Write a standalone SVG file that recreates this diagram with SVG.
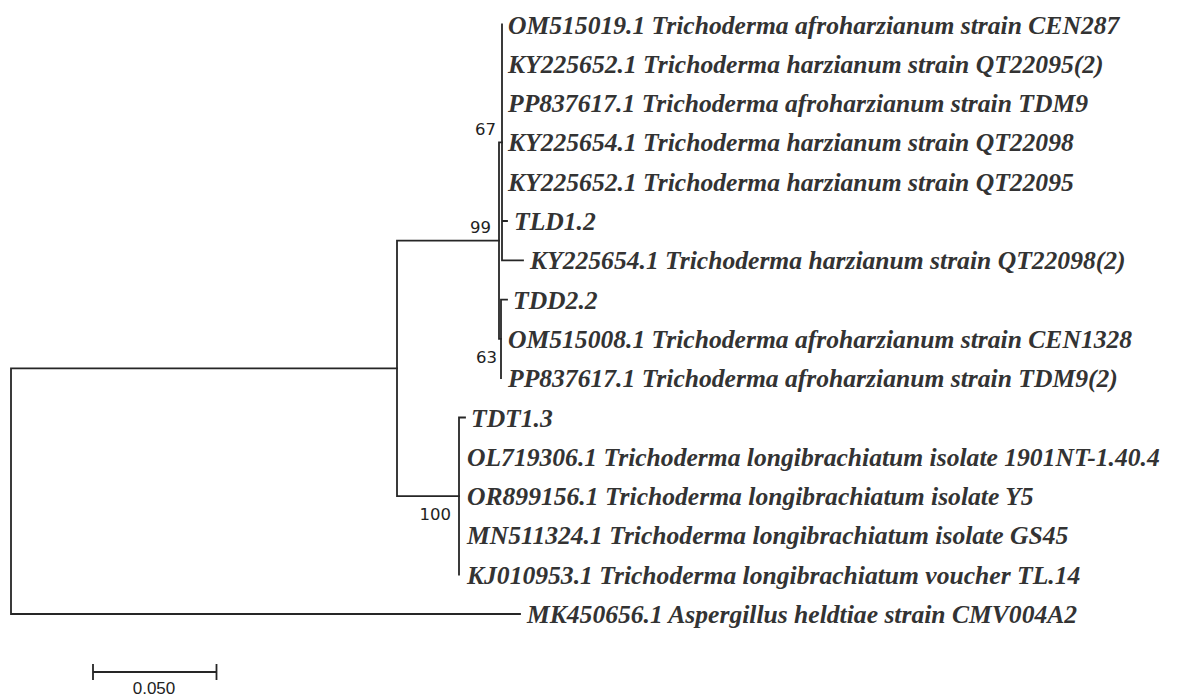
<svg xmlns="http://www.w3.org/2000/svg" width="1184" height="697" viewBox="0 0 1184 697">
<style>
.br{fill:none;stroke:#262626;stroke-width:1.8;stroke-linecap:square}
.lf{font-family:"Liberation Serif","Times New Roman",serif;font-style:italic;font-weight:bold;font-size:25.6px;fill:#333}
.bs{font-family:"DejaVu Sans",Verdana,sans-serif;font-size:16.5px;fill:#222;text-anchor:end}
.sc{font-family:"Liberation Sans",Arial,sans-serif;font-size:17px;fill:#222;text-anchor:middle}
</style>
<rect width="1184" height="697" fill="#fff"/>
<g id="connectors">
<path class="br" d="M11,368.4 V614 M11,368.4 H397 M11,614 H520"/>
<path class="br" d="M397,240.6 V496.1 M397,240.6 H499 M397,496.1 H459"/>
<path class="br" d="M499,142.4 V338.9 M499,142.4 H502 M499,338.9 H501"/>
<path class="br" d="M502,24.5 V260.3 M502,221 H507 M502,260.3 H523"/>
<path class="br" d="M501,299.6 V378.2 M501,299.6 H507"/>
<path class="br" d="M459,417.5 V574.7 M459,417.5 H465"/>
</g>
<g id="bootstrap">
<text class="bs" x="496" y="135">67</text>
<text class="bs" x="491" y="233">99</text>
<text class="bs" x="497" y="363">63</text>
<text class="bs" x="451" y="520">100</text>
</g>
<g id="leaf-0"><text class="lf" x="508" y="33.5">OM515019.1 Trichoderma afroharzianum strain CEN287</text></g>
<g id="leaf-1"><text class="lf" x="508" y="72.8">KY225652.1 Trichoderma harzianum strain QT22095(2)</text></g>
<g id="leaf-2"><text class="lf" x="508" y="112.1">PP837617.1 Trichoderma afroharzianum strain TDM9</text></g>
<g id="leaf-3"><text class="lf" x="508" y="151.4">KY225654.1 Trichoderma harzianum strain QT22098</text></g>
<g id="leaf-4"><text class="lf" x="508" y="190.7">KY225652.1 Trichoderma harzianum strain QT22095</text></g>
<g id="leaf-5"><text class="lf" x="514" y="230">TLD1.2</text></g>
<g id="leaf-6"><text class="lf" x="530" y="269.3">KY225654.1 Trichoderma harzianum strain QT22098(2)</text></g>
<g id="leaf-7"><text class="lf" x="513" y="308.6">TDD2.2</text></g>
<g id="leaf-8"><text class="lf" x="508" y="347.9">OM515008.1 Trichoderma afroharzianum strain CEN1328</text></g>
<g id="leaf-9"><text class="lf" x="508" y="387.2">PP837617.1 Trichoderma afroharzianum strain TDM9(2)</text></g>
<g id="leaf-10"><text class="lf" x="471" y="426.5">TDT1.3</text></g>
<g id="leaf-11"><text class="lf" x="467" y="465.8">OL719306.1 Trichoderma longibrachiatum isolate 1901NT-1.40.4</text></g>
<g id="leaf-12"><text class="lf" x="467" y="505.1">OR899156.1 Trichoderma longibrachiatum isolate Y5</text></g>
<g id="leaf-13"><text class="lf" x="467" y="544.4">MN511324.1 Trichoderma longibrachiatum isolate GS45</text></g>
<g id="leaf-14"><text class="lf" x="467" y="583.7">KJ010953.1 Trichoderma longibrachiatum voucher TL.14</text></g>
<g id="leaf-15"><text class="lf" x="527" y="623">MK450656.1 Aspergillus heldtiae strain CMV004A2</text></g>
<g id="scale-bar">
<path class="br" d="M93,672 H216.5 M93,665 V679 M216.5,665 V679"/>
<text class="sc" x="154" y="694">0.050</text>
</g>
</svg>
